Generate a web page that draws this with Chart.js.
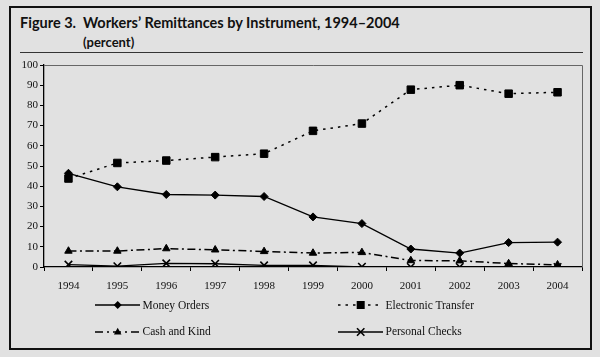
<!DOCTYPE html>
<html>
<head>
<meta charset="utf-8">
<script src="https://cdn.jsdelivr.net/npm/chart.js@4/dist/chart.umd.min.js"></script>
<style>
  html, body { margin:0; padding:0; }
  body { width:600px; height:357px; background:#e1e1e1; position:relative; overflow:hidden; }
  #frame { position:absolute; left:9px; top:6px; width:583px; height:344px; border:2px solid #111; box-sizing:border-box; }
  #title { position:absolute; left:20px; top:14px; font-family:Lato, "Open Sans", sans-serif; font-weight:700; font-size:14.5px; color:#111; white-space:pre; }
  #sub { position:absolute; left:83px; top:34px; font-family:Lato, "Open Sans", sans-serif; font-weight:700; font-size:13px; color:#111; }
  #rule { position:absolute; left:20px; top:52px; width:563px; height:1px; background:#333; }
  #c { position:absolute; left:0; top:0; }
  .lg { position:absolute; font-family:"Liberation Serif", "Times New Roman", serif; font-size:11.5px; color:#111; white-space:nowrap; line-height:14px; }
  svg.s { position:absolute; overflow:visible; }
</style>
</head>
<body>
<div id="frame"></div>
<div id="title">Figure 3.  Workers’ Remittances by Instrument, 1994–2004</div>
<div id="sub">(percent)</div>
<div id="rule"></div>
<canvas id="c" width="600" height="357"></canvas>
<div id="legend"></div>
<script>
const years = ['1994','1995','1996','1997','1998','1999','2000','2001','2002','2003','2004'];
const moneyOrders = [46.4, 39.7, 35.9, 35.6, 34.9, 24.8, 21.5, 8.9, 6.9, 12.1, 12.3];
const electronicTransfer = [43.8, 51.5, 52.7, 54.4, 56.1, 67.4, 71.0, 87.8, 90.0, 85.8, 86.5];
const cashAndKind = [7.9, 7.9, 9.1, 8.5, 7.7, 6.9, 7.2, 3.2, 3.1, 1.7, 1.1];
const personalChecks = [1.2, 0.4, 1.8, 1.6, 0.8, 0.8, 0.1, 0, 0, 0, 0];
const seriesNames = ['Money Orders', 'Electronic Transfer', 'Cash and Kind', 'Personal Checks'];
const yTicks = [0,10,20,30,40,50,60,70,80,90,100];

const serif = "'Liberation Serif', 'Times New Roman', serif";
const frameLines = {
  id: 'frameLines',
  afterDraw(chart) {
    const a = chart.chartArea, ctx = chart.ctx;
    ctx.save();
    ctx.strokeStyle = '#666';
    ctx.lineWidth = 1;
    ctx.beginPath();
    ctx.moveTo(a.left, Math.round(a.top) + 0.5);
    ctx.lineTo(Math.round(a.right) + 0.5, Math.round(a.top) + 0.5);
    ctx.lineTo(Math.round(a.right) + 0.5, a.bottom);
    ctx.stroke();
    ctx.restore();
  }
};

const chart = new Chart(document.getElementById('c'), {
  type: 'line',
  data: {
    labels: years,
    datasets: [
      { label: seriesNames[0], data: moneyOrders, borderColor:'#000', backgroundColor:'#000', borderWidth:1.3,
        pointStyle:'rectRot', pointRadius:4, pointBorderWidth:1 },
      { label: seriesNames[1], data: electronicTransfer, borderColor:'#000', backgroundColor:'#000', borderWidth:1.5,
        borderDash:[2.5,5], pointStyle:'rect', pointRadius:5.3, pointBorderWidth:1 },
      { label: seriesNames[2], data: cashAndKind, borderColor:'#000', backgroundColor:'#000', borderWidth:1.5,
        borderDash:[8,3.5,2,3.5], pointStyle:'triangle', pointRadius:4.3, pointBorderWidth:1 },
      { label: seriesNames[3], data: personalChecks, borderColor:'#000', backgroundColor:'#000', borderWidth:1.3,
        pointStyle:'crossRot', pointRadius:5.3, pointBorderWidth:1.6 }
    ]
  },
  options: {
    responsive:false, animation:false,
    layout: { padding: { top:65, right:18, bottom:60, left:0 } },
    plugins: { legend:{display:false}, tooltip:{enabled:false}, title:{display:false} },
    elements: { line: { tension:0 } },
    scales: {
      x: {
        type:'category', offset:true,
        grid: { display:true, offset:true, drawOnChartArea:false, drawTicks:true, tickLength:4, color:'#000', lineWidth:1 },
        border: { display:true, color:'#000', width:1.3 },
        ticks: { color:'#111', font:{ family:serif, size:11 }, padding:9, maxRotation:0, autoSkip:false },
        afterFit(s) { s.height = 30; }
      },
      y: {
        min:0, max:100,
        afterBuildTicks(s) { s.ticks = yTicks.map(v => ({ value:v })); },
        grid: { display:true, drawOnChartArea:false, drawTicks:true, tickLength:4, color:'#000', lineWidth:1 },
        border: { display:true, color:'#000', width:1.3 },
        ticks: { color:'#111', font:{ family:serif, size:11 }, padding:2 },
        afterFit(s) { s.width = 44; }
      }
    }
  },
  plugins: [frameLines]
});

// HTML legend with line samples
const legendItems = [
  { name: seriesNames[0], x0:95, y:305, marker:'diamond', dash:'' },
  { name: seriesNames[1], x0:338, y:305, marker:'square', dash:'2.5 5' },
  { name: seriesNames[2], x0:95, y:331.5, marker:'triangle', dash:'8 4 2 4' },
  { name: seriesNames[3], x0:338, y:331.5, marker:'cross', dash:'' }
];
const lg = document.getElementById('legend');
legendItems.forEach(it => {
  const svgNS = 'http://www.w3.org/2000/svg';
  const svg = document.createElementNS(svgNS, 'svg');
  svg.setAttribute('class','s');
  svg.setAttribute('width','46'); svg.setAttribute('height','14');
  svg.style.left = it.x0 + 'px'; svg.style.top = (it.y - 7) + 'px';
  const line = document.createElementNS(svgNS, 'line');
  line.setAttribute('x1','0'); line.setAttribute('x2','45'); line.setAttribute('y1','7'); line.setAttribute('y2','7');
  line.setAttribute('stroke','#000'); line.setAttribute('stroke-width', it.dash ? '1.5' : '1.3');
  if (it.dash) line.setAttribute('stroke-dasharray', it.dash);
  svg.appendChild(line);
  let m;
  const cx = 22.7, cy = 7;
  if (it.marker === 'diamond') {
    m = document.createElementNS(svgNS, 'polygon');
    m.setAttribute('points', `${cx-4},${cy} ${cx},${cy-4} ${cx+4},${cy} ${cx},${cy+4}`);
    m.setAttribute('fill','#000');
  } else if (it.marker === 'square') {
    m = document.createElementNS(svgNS, 'rect');
    m.setAttribute('x', cx-4); m.setAttribute('y', cy-4); m.setAttribute('width', 8); m.setAttribute('height', 8);
    m.setAttribute('fill','#000');
  } else if (it.marker === 'triangle') {
    m = document.createElementNS(svgNS, 'polygon');
    m.setAttribute('points', `${cx},${cy-4.3} ${cx+3.8},${cy+2.4} ${cx-3.8},${cy+2.4}`);
    m.setAttribute('fill','#000');
  } else {
    m = document.createElementNS(svgNS, 'path');
    m.setAttribute('d', `M${cx-3.7},${cy-3.7} L${cx+3.7},${cy+3.7} M${cx-3.7},${cy+3.7} L${cx+3.7},${cy-3.7}`);
    m.setAttribute('stroke','#000'); m.setAttribute('stroke-width','1.6');
  }
  svg.appendChild(m);
  lg.appendChild(svg);
  const t = document.createElement('div');
  t.className = 'lg';
  t.textContent = it.name;
  t.style.left = (it.x0 + 47.5) + 'px';
  t.style.top = (it.y - 7.5) + 'px';
  lg.appendChild(t);
});
</script>
</body>
</html>
